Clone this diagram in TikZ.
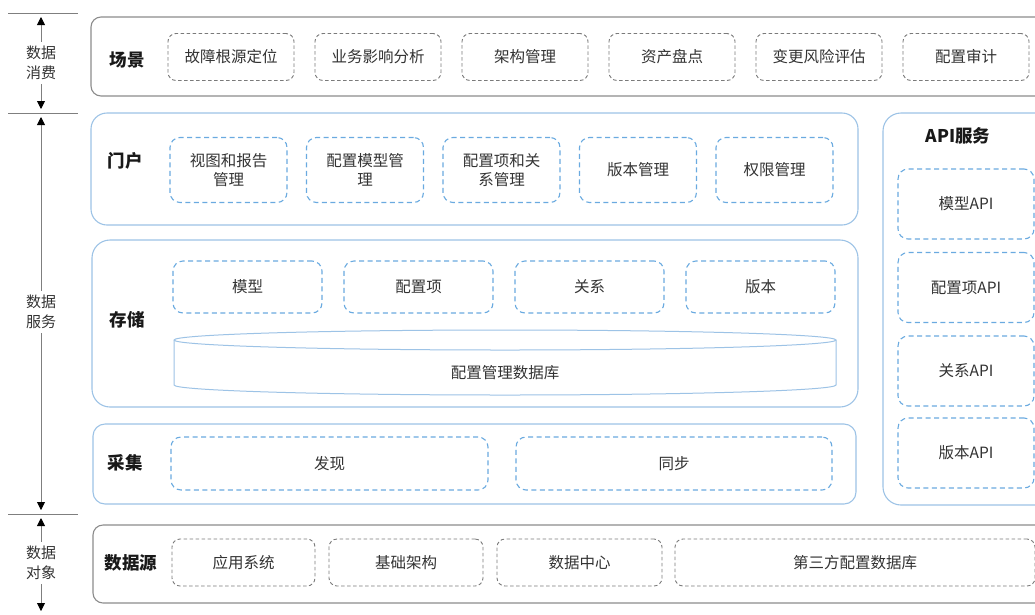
\documentclass[tikz,border=0pt]{standalone}
\usepackage{fontspec}
\setmainfont{Noto Sans CJK SC}
\usetikzlibrary{arrows.meta}
\definecolor{txt}{HTML}{333333}
\definecolor{graybd}{HTML}{8C8C8C}
\definecolor{graydash}{HTML}{7A7A7A}
\definecolor{bluebd}{HTML}{9DC3E6}
\definecolor{bluedash}{HTML}{6AAAE0}
\definecolor{axis}{HTML}{7F7F7F}
\tikzset{
  graybox/.style={draw=graybd, line width=1.1pt, rounded corners=10pt, fill=white},
  bluebox/.style={draw=bluebd, line width=1.1pt, rounded corners=16pt, fill=white},
  gitem/.style={draw=graydash, line width=0.9pt, dash pattern=on 3.5pt off 2.5pt, rounded corners=8pt, text=txt, font=\fontsize{15.5}{19}\selectfont, align=center, inner sep=0pt},
  bitem/.style={draw=bluedash, line width=1.1pt, dash pattern=on 5pt off 3.5pt, rounded corners=10pt, text=txt, font=\fontsize{15.5}{19}\selectfont, align=center, inner sep=0pt},
  lbl/.style={font=\fontsize{17.5}{20}\bfseries\selectfont, text=black!90},
  axtxt/.style={font=\fontsize{15}{20}\selectfont, text=txt, align=center, inner sep=4pt},
  axline/.style={draw=axis, line width=0.9pt},
  axarr/.style={draw=axis, line width=0.9pt, -{Triangle[length=8pt,width=8pt,black]}},
}
\begin{document}
\begin{tikzpicture}[x=1pt,y=-1pt]
\useasboundingbox (0,0) rectangle (1035,614);
\clip (0,0) rectangle (1035,614);

% ---------- left axis ----------
\coordinate (la) at (8,13);   \coordinate (lb) at (78,13);
\coordinate (lc) at (8,113);  \coordinate (ld) at (78,113);
\coordinate (le) at (8,514);  \coordinate (lf) at (78,514);
\draw[axline] (la) -- (lb);
\draw[axline] (lc) -- (ld);
\draw[axline] (le) -- (lf);

\node[axtxt] (ax1) at (41,63) {数据\\消费};
\coordinate (a1t) at (41,17); \coordinate (a1b) at (41,109);
\draw[axarr] (ax1.north) -- (a1t);
\draw[axarr] (ax1.south) -- (a1b);

\node[axtxt] (ax2) at (41,312) {数据\\服务};
\coordinate (a2t) at (41,117); \coordinate (a2b) at (41,510);
\draw[axarr] (ax2.north) -- (a2t);
\draw[axarr] (ax2.south) -- (a2b);

\node[axtxt] (ax3) at (41,563) {数据\\对象};
\coordinate (a3t) at (41,518); \coordinate (a3b) at (41,611);
\draw[axarr] (ax3.north) -- (a3t);
\draw[axarr] (ax3.south) -- (a3b);

% ---------- scene ----------
\draw[graybox] (91,17) rectangle (1050,96);
\node[lbl] (scn) at (127,60) {场景};
\foreach \i/\t in {0/故障根源定位,1/业务影响分析,2/架构管理,3/资产盘点,4/变更风险评估,5/配置审计}{
  \node[gitem, minimum width=126pt, minimum height=47pt] (s\i) at ({231+147*\i},57) {\t};
}

% ---------- portal ----------
\draw[bluebox] (91,113) rectangle (858,225);
\node[lbl] (por) at (125,161) {门户};
\foreach \i/\t in {0/{视图和报告\\管理},1/{配置模型管\\理},2/{配置项和关\\系管理},3/版本管理,4/权限管理}{
  \node[bitem, minimum width=117pt, minimum height=65pt] (p\i) at ({228.5+136.5*\i},170) {\t};
}

% ---------- storage ----------
\draw[bluebox, rounded corners=18pt] (92,240) rectangle (858,407);
\node[lbl] (sto) at (127,320) {存储};
\foreach \i/\t in {0/模型,1/配置项,2/关系,3/版本}{
  \node[bitem, minimum width=149pt, minimum height=52pt] (st\i) at ({247.5+171*\i},287) {\t};
}
% cylinder
\draw[draw=bluebd, line width=1pt, fill=white]
  (174,340) -- (174,385) arc[start angle=180, end angle=360, x radius=331pt, y radius=10pt]
  -- (836,340) arc[start angle=0, end angle=180, x radius=331pt, y radius=10pt] -- cycle;
\draw[draw=bluebd, line width=1pt] (174,340) arc[start angle=180, end angle=360, x radius=331pt, y radius=10pt];
\node[text=txt, font=\fontsize{15.5}{19}\selectfont] (db) at (505,373) {配置管理数据库};

% ---------- collect ----------
\draw[bluebox, rounded corners=12pt] (93,424) rectangle (856,504);
\node[lbl] (col) at (125,463) {采集};
\node[bitem, minimum width=317pt, minimum height=53pt] (c0) at (329.5,463.5) {发现};
\node[bitem, minimum width=316pt, minimum height=53pt] (c1) at (674,463.5) {同步};

% ---------- API ----------
\draw[bluebox, rounded corners=18pt] (883,113) rectangle (1060,505);
\node[lbl] (api) at (958,136) {API服务};
\foreach \i/\t/\y in {0/模型API/204,1/配置项API/287.5,2/关系API/371,3/版本API/453}{
  \node[bitem, minimum width=136pt, minimum height=70pt] (ap\i) at (966,\y) {\t};
}

% ---------- data source ----------
\draw[graybox] (93,525) rectangle (1050,603);
\node[lbl] (ds) at (131,563) {数据源};
\node[gitem, minimum width=143pt, minimum height=47pt] (d0) at (243.5,562.5) {应用系统};
\node[gitem, minimum width=154pt, minimum height=47pt] (d1) at (406,562.5) {基础架构};
\node[gitem, minimum width=165pt, minimum height=47pt] (d2) at (579.5,562.5) {数据中心};
\node[gitem, minimum width=360pt, minimum height=47pt] (d3) at (855,562.5) {第三方配置数据库};
\end{tikzpicture}
\end{document}
